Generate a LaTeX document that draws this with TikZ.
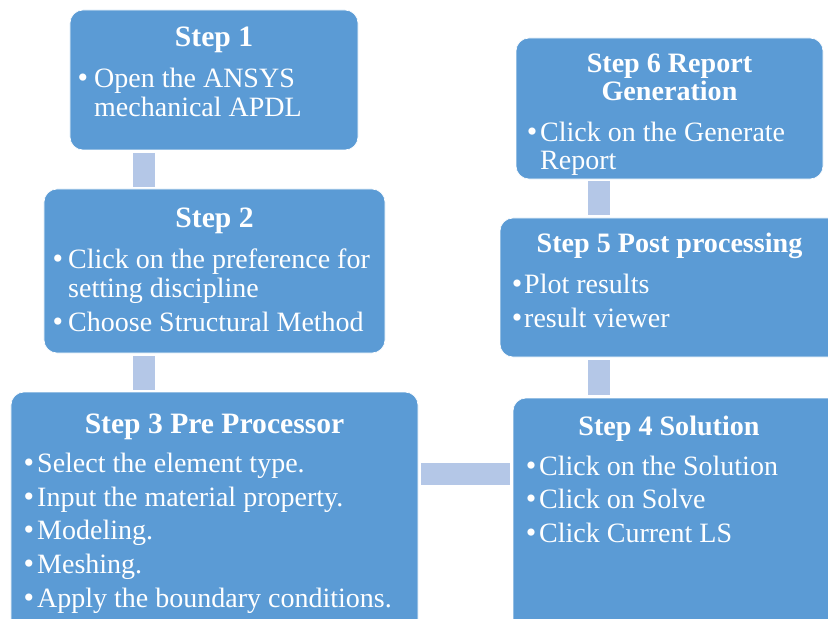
\documentclass[tikz,border=0pt]{standalone}
\usepackage{fontspec}
\setmainfont{Liberation Serif}
\definecolor{boxblue}{HTML}{5B9BD5}
\definecolor{connblue}{HTML}{B4C7E7}
\begin{document}
\begin{tikzpicture}[x=1bp,y=-1bp,
  box/.style={fill=boxblue, draw=white, line width=0.6bp, rounded corners=13bp, inner sep=0pt, outer sep=0pt},
  conn/.style={draw=connblue, line width=22bp},
  ttl/.style={text=white, anchor=base, inner sep=0pt, font=\bfseries\fontsize{29.6bp}{34bp}\selectfont},
  ttlr/.style={text=white, anchor=base, inner sep=0pt, font=\bfseries\fontsize{28.1bp}{33bp}\selectfont},
  txt/.style={text=white, anchor=base west, inner sep=0pt, font=\fontsize{28bp}{33bp}\selectfont},
  bul/.style={text=white, anchor=base, inner sep=0pt, font=\fontsize{30bp}{33bp}\selectfont}]
\useasboundingbox (0,0) rectangle (828,619);
% boxes
\node[box, minimum width=288bp, minimum height=140bp] (s1) at (214,80) {};
\node[box, minimum width=341bp, minimum height=164bp] (s2) at (214.5,271) {};
\node[box, minimum width=407bp, minimum height=250bp] (s3) at (214.5,517) {};
\node[box, minimum width=337bp, minimum height=244bp] (s4) at (681.5,520) {};
\node[box, minimum width=350bp, minimum height=139bp] (s5) at (675,287.5) {};
\node[box, minimum width=307bp, minimum height=141bp] (s6) at (669.5,108.5) {};
% connector columns
\coordinate (cl) at (144,0);
\coordinate (cr) at (599,0);
\draw[conn, shorten <=3bp, shorten >=2bp] (s1.south -| cl) -- (s2.north -| cl);
\draw[conn, shorten <=3bp, shorten >=2bp] (s2.south -| cl) -- (s3.north -| cl);
\draw[conn, shorten <=3bp, shorten >=3bp] (s4.north -| cr) -- (s5.south -| cr);
\draw[conn, shorten <=3bp, shorten >=2bp] (s5.north -| cr) -- (s6.south -| cr);
\coordinate (hy) at (0,474);
\draw[conn, shorten <=3bp, shorten >=3bp] (s3.east |- hy) -- (s4.west |- hy);
% step 1
\node[ttl] (t1) at (214,47) {Step 1};
\node[bul] (b11) at (83,87.5) {•};
\node[txt] (l11) at (94,87.5) {Open the ANSYS};
\node[txt] (l12) at (94,116.5) {mechanical APDL};
% step 2
\node[ttl] (t2) at (214.5,227.5) {Step 2};
\node[bul] (b21) at (58,268.5) {•};
\node[txt] (l21) at (68,268.5) {Click on the preference for};
\node[txt] (l22) at (68,297.5) {setting discipline};
\node[bul] (b22) at (58,331.5) {•};
\node[txt] (l23) at (68,331.5) {Choose Structural Method};
% step 3
\node[ttl] (t3) at (214.5,433) {Step 3 Pre Processor};
\node[bul] (b31) at (29,472) {•};
\node[txt] (l31) at (37,472) {Select the element type.};
\node[bul] (b32) at (29,506) {•};
\node[txt] (l32) at (37,506) {Input the material property.};
\node[bul] (b33) at (29,539.5) {•};
\node[txt] (l33) at (37,539.5) {Modeling.};
\node[bul] (b34) at (29,573.5) {•};
\node[txt] (l34) at (37,573.5) {Meshing.};
\node[bul] (b35) at (29,607) {•};
\node[txt] (l35) at (37,607) {Apply the boundary conditions.};
% step 4
\node[ttlr] (t4) at (669,435) {Step 4 Solution};
\node[bul] (b41) at (531,475) {•};
\node[txt] (l41) at (539,475) {Click on the Solution};
\node[bul] (b42) at (531,508.5) {•};
\node[txt] (l42) at (539,508.5) {Click on Solve};
\node[bul] (b43) at (531,542) {•};
\node[txt] (l43) at (539,542) {Click Current LS};
% step 5
\node[ttlr] (t5) at (669.5,252) {Step 5 Post processing};
\node[bul] (b51) at (517,293) {•};
\node[txt] (l51) at (524,293) {Plot results};
\node[bul] (b52) at (517,327) {•};
\node[txt] (l52) at (524,327) {result viewer};
% step 6
\node[ttlr] (t6a) at (669.5,73) {Step 6 Report};
\node[ttlr] (t6b) at (669.5,101) {Generation};
\node[bul] (b61) at (532,142) {•};
\node[txt] (l61) at (540,142) {Click on the Generate};
\node[txt] (l62) at (540,170) {Report};
\end{tikzpicture}
\end{document}
